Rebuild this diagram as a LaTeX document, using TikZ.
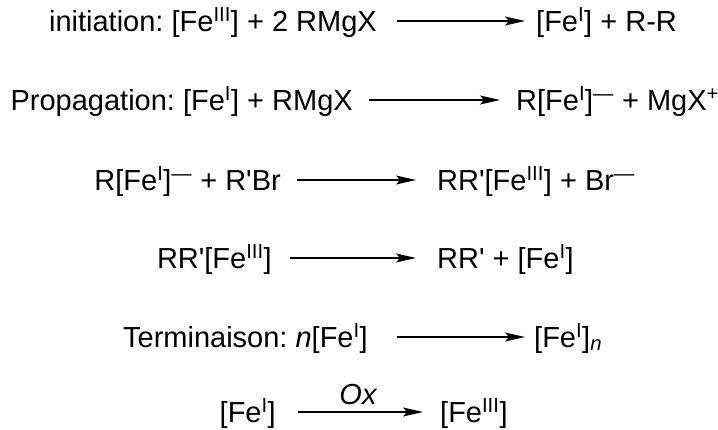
\documentclass[tikz,border=0pt]{standalone}
\usepackage{fontspec}
\setmainfont{Liberation Sans}
\usetikzlibrary{arrows.meta}
\frenchspacing

\newcommand{\fer}[1]{[Fe\textsuperscript{#1}]}
\newcommand{\charge}{\textsuperscript{\textemdash}}
\newcommand{\prim}{\textquotesingle}

\begin{document}
\begin{tikzpicture}[x=1pt, y=-1pt,
    espece/.style={inner sep=0pt, text height=24pt, text depth=4pt,
                   font=\fontsize{29}{34}\selectfont},
    fleche/.style={-{Stealth[length=20pt, width=9pt, inset=4pt]}, line width=1.3pt}]

  \useasboundingbox (0,0) rectangle (718,429);

  % Initiation.
  \node[espece, anchor=base east] (g1) at (377,31) {initiation: \fer{III} + 2 RMgX};
  \node[espece, anchor=base west] (d1) at (536,31) {\fer{I} + R-R};
  \draw[fleche, shorten <=20pt, shorten >=11pt] (g1.east) -- (d1.west);

  % Propagation.
  \node[espece, anchor=base east] (g2) at (353,110) {Propagation: \fer{I} + RMgX};
  \node[espece, anchor=base west] (d2) at (516,110) {R\fer{I}\charge{} + MgX\textsuperscript{+}};
  \draw[fleche, shorten <=16pt, shorten >=16pt] (g2.east) -- (d2.west);

  \node[espece, anchor=base east] (g3) at (281,190) {R\fer{I}\charge{} + R\prim Br};
  \node[espece, anchor=base west] (d3) at (437,190) {RR\prim\fer{III} + Br\charge};
  \draw[fleche, shorten <=16pt, shorten >=21pt] (g3.east) -- (d3.west);

  \node[espece, anchor=base east] (g4) at (272,268) {RR\prim\fer{III}};
  \node[espece, anchor=base west] (d4) at (437,268) {RR\prim{} + \fer{I}};
  \draw[fleche, shorten <=18pt, shorten >=21pt] (g4.east) -- (d4.west);

  % Terminaison.
  \node[espece, anchor=base east] (g5) at (368,347) {Terminaison: \textit{n}\fer{I}};
  \node[espece, anchor=base west] (d5) at (534,347) {\fer{I}\textsubscript{\textit{n}}};
  \draw[fleche, shorten <=29pt, shorten >=9pt] (g5.east) -- (d5.west);

  % Oxydation.
  \node[espece, anchor=base east] (g6) at (276,422) {\fer{I}};
  \node[espece, anchor=base west] (d6) at (440,422) {\fer{III}};
  \draw[fleche, shorten <=22pt, shorten >=17pt] (g6.east) -- (d6.west)
       node[midway, above=3pt, font=\fontsize{29}{34}\selectfont\itshape] (ox) {Ox};

\end{tikzpicture}
\end{document}
